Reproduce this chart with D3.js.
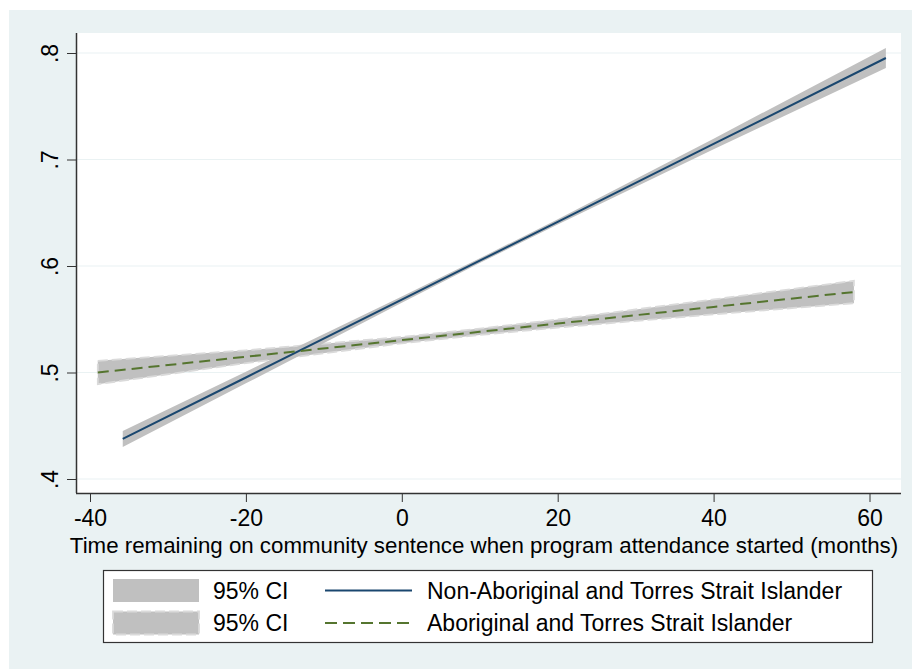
<!DOCTYPE html>
<html>
<head>
<meta charset="utf-8">
<script src="https://cdn.jsdelivr.net/npm/d3@7"></script>
<style>
  html, body { margin: 0; padding: 0; background: #ffffff; }
  svg { display: block; }
  text { font-family: "Liberation Sans", Arial, Helvetica, sans-serif; fill: #000; }
</style>
</head>
<body>
<svg id="chart" width="912" height="669"></svg>
<script>
// ---- data ----
const nonX    = [-35.8, -20, 0, 10, 20, 40, 62.1];
const nonFit  = [0.4376, 0.4953, 0.5684, 0.6050, 0.6415, 0.7146, 0.7953];
const nonLo   = [0.4301, 0.4898, 0.5654, 0.6028, 0.6390, 0.7096, 0.7859];
const nonHi   = [0.4451, 0.5008, 0.5714, 0.6072, 0.6440, 0.7196, 0.8047];

const aborX   = [-39, -20, 0, 10, 20, 40, 58];
const aborFit = [0.5000, 0.5148, 0.5304, 0.5382, 0.5460, 0.5616, 0.5756];
const aborLo  = [0.4890, 0.5088, 0.5274, 0.5352, 0.5422, 0.5546, 0.5651];
const aborHi  = [0.5110, 0.5208, 0.5334, 0.5412, 0.5498, 0.5686, 0.5861];

const xTicks = [-40, -20, 0, 20, 40, 60];
const yTicks = [0.4, 0.5, 0.6, 0.7, 0.8];
const yTickLabels = [".4", ".5", ".6", ".7", ".8"];
const xTitle = "Time remaining on community sentence when program attendance started (months)";
const legendAreaLabels = ["95% CI", "95% CI"];
const legendLineLabels = ["Non-Aboriginal and Torres Strait Islander", "Aboriginal and Torres Strait Islander"];

// ---- layout ----
const svg = d3.select("#chart");
const bg = "#eaf2f3";
const plot = { left: 76, right: 901, top: 33, bottom: 493 };
const FS = 23;

svg.append("rect").attr("x", 9).attr("y", 10).attr("width", 903).attr("height", 659).attr("fill", bg);
svg.append("rect").attr("x", plot.left).attr("y", plot.top)
   .attr("width", plot.right - plot.left).attr("height", plot.bottom - plot.top).attr("fill", "#fff");

const x = d3.scaleLinear().domain([-40, 60]).range([90, 869.5]);
const y = d3.scaleLinear().domain([0.4, 0.8]).range([479, 53]);

// grid lines
svg.append("g").selectAll("line").data(yTicks).join("line")
  .attr("x1", plot.left).attr("x2", plot.right)
  .attr("y1", d => y(d)).attr("y2", d => y(d))
  .attr("stroke", bg).attr("stroke-width", 1.2);

// CI bands
function band(xs, lo, hi) {
  return d3.area().x((d, i) => x(xs[i])).y0((d, i) => y(lo[i])).y1((d, i) => y(hi[i]))(xs);
}
svg.append("path").attr("d", band(aborX, aborLo, aborHi))
  .attr("fill", "#c0c0c0").attr("stroke", "#dadada").attr("stroke-width", 1.8)
  .attr("stroke-dasharray", "10,4");
svg.append("path").attr("d", band(nonX, nonLo, nonHi))
  .attr("fill", "#c0c0c0");

// fit lines
function fitLine(xs, ys) {
  return d3.line().x((d, i) => x(xs[i])).y((d, i) => y(ys[i]))(xs);
}
svg.append("path").attr("d", fitLine(nonX, nonFit))
  .attr("fill", "none").attr("stroke", "#1a476f").attr("stroke-width", 2);
svg.append("path").attr("d", fitLine(aborX, aborFit))
  .attr("fill", "none").attr("stroke", "#55752f").attr("stroke-width", 2)
  .attr("stroke-dasharray", "11,6");

// axes
const xAxis = svg.append("g").attr("transform", `translate(0,${plot.bottom})`)
  .call(d3.axisBottom(x).tickValues(xTicks).tickFormat(d3.format("d")).tickSize(9).tickPadding(8).tickSizeOuter(0));
xAxis.select(".domain").attr("d", `M${plot.left},0.5H${plot.right}`).attr("stroke", "#333").attr("stroke-width", 1.5);
xAxis.selectAll(".tick line").attr("stroke", "#333");
xAxis.selectAll(".tick text").attr("font-size", FS).attr("dy", null).attr("y", 33)
  .style("font-family", '"Liberation Sans", Arial, sans-serif').attr("fill", "#000")
  .text(d => d < 0 ? "-" + Math.abs(d) : d);

const yAxis = svg.append("g").attr("transform", `translate(${plot.left},0)`)
  .call(d3.axisLeft(y).tickValues(yTicks).tickSize(9).tickSizeOuter(0).tickFormat((d, i) => yTickLabels[i]));
yAxis.select(".domain").attr("d", `M0.5,${plot.top}V${plot.bottom}`).attr("stroke", "#333").attr("stroke-width", 1.5);
yAxis.selectAll(".tick line").attr("stroke", "#333");
yAxis.selectAll(".tick text")
  .attr("font-size", FS).attr("x", null).attr("dy", null).attr("text-anchor", "middle")
  .attr("transform", "translate(-18,0) rotate(-90)")
  .attr("y", 0)
  .style("font-family", '"Liberation Sans", Arial, sans-serif').attr("fill", "#000");

// x title (kept inside the canvas)
svg.append("text").attr("x", 484).attr("y", 553)
  .attr("text-anchor", "middle").attr("font-size", 22.3)
  .text(xTitle);

// legend
const lg = svg.append("g");
lg.append("rect").attr("x", 103.5).attr("y", 570.5).attr("width", 769).attr("height", 72)
  .attr("fill", "#fff").attr("stroke", "#333").attr("stroke-width", 1.2);
const rowsY = [590.5, 623];
lg.append("rect").attr("x", 113).attr("y", rowsY[0] - 11.5).attr("width", 86).attr("height", 23).attr("fill", "#c0c0c0");
lg.append("rect").attr("x", 113).attr("y", rowsY[1] - 11.5).attr("width", 86).attr("height", 23)
  .attr("fill", "#c0c0c0").attr("stroke", "#dadada").attr("stroke-width", 1.8).attr("stroke-dasharray", "10,4");
legendAreaLabels.forEach((t, i) => {
  lg.append("text").attr("x", 213).attr("y", rowsY[i] + 8).attr("font-size", FS).text(t);
});
lg.append("line").attr("x1", 325).attr("x2", 412).attr("y1", rowsY[0]).attr("y2", rowsY[0])
  .attr("stroke", "#1a476f").attr("stroke-width", 2);
lg.append("line").attr("x1", 325).attr("x2", 412).attr("y1", rowsY[1]).attr("y2", rowsY[1])
  .attr("stroke", "#55752f").attr("stroke-width", 2).attr("stroke-dasharray", "12,6");
legendLineLabels.forEach((t, i) => {
  lg.append("text").attr("x", 427).attr("y", rowsY[i] + 8).attr("font-size", FS).text(t);
});
</script>
</body>
</html>
